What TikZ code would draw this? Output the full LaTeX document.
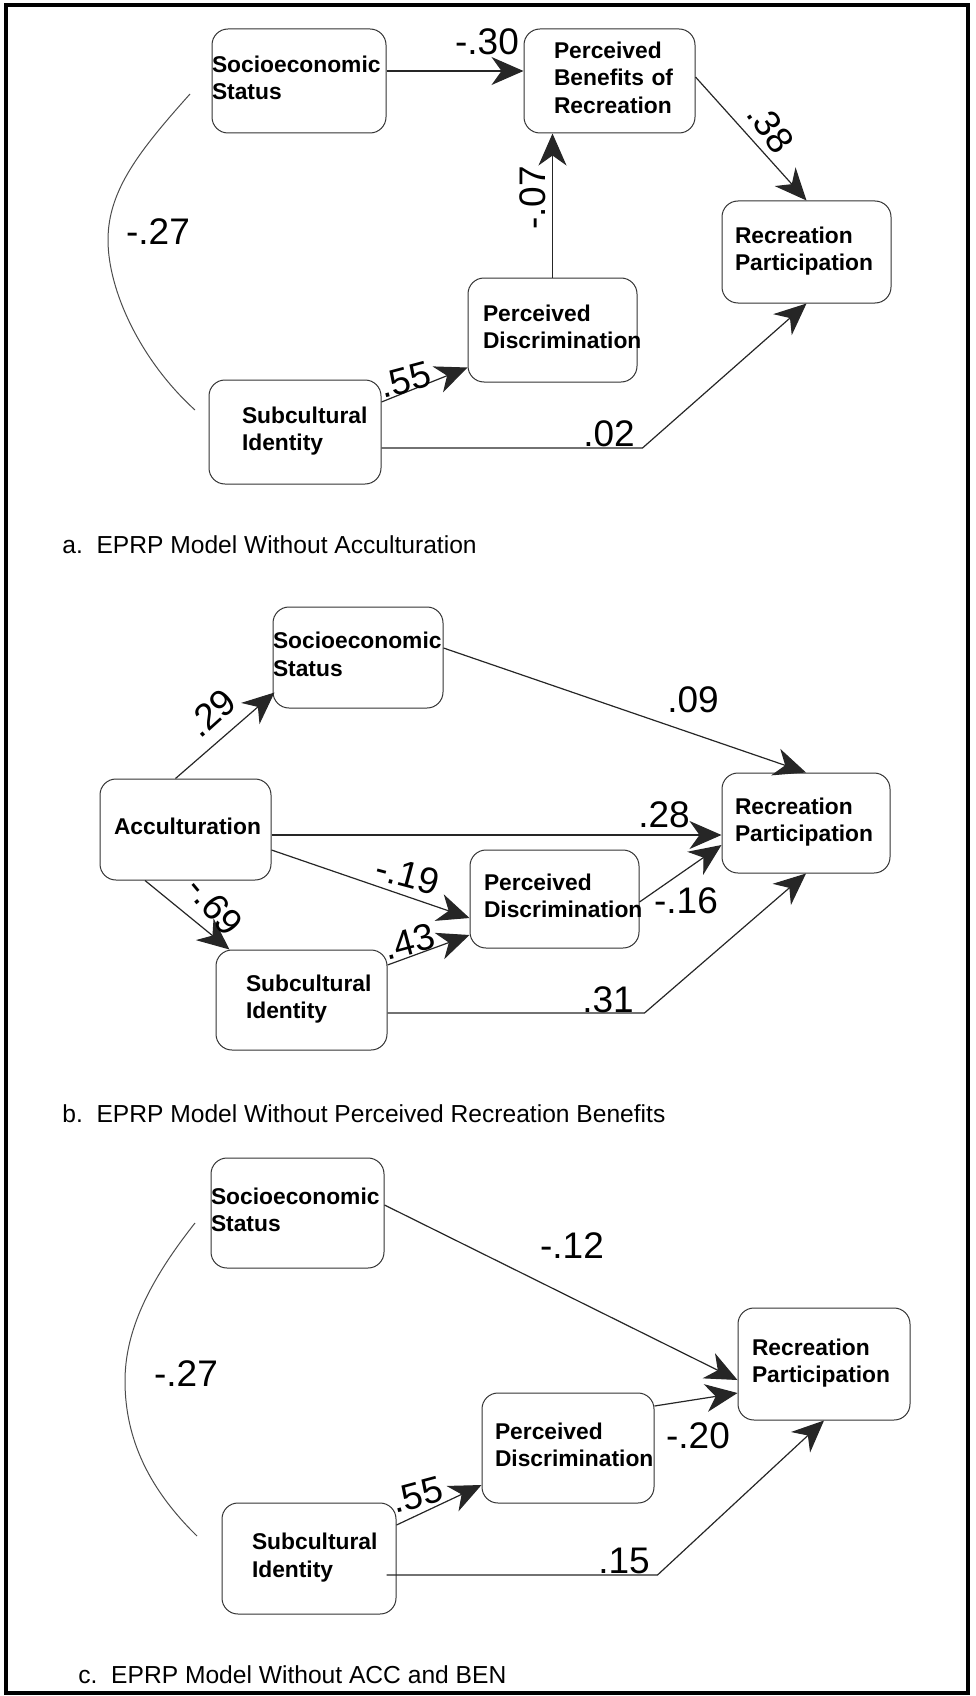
\documentclass[tikz,border=0pt]{standalone}
\usepackage{fontspec}
\setmainfont{Liberation Sans}
\usetikzlibrary{arrows.meta}
\newcommand{\lastdepth}{\rule[-3.5pt]{0pt}{3.5pt}}
\newcommand{\nohyph}{\hyphenpenalty=10000 \exhyphenpenalty=10000 \relax}
\tikzset{
  box/.style={draw=black!80, line width=0.5pt, rounded corners=8pt, inner sep=0pt,
    align=left, font=\bfseries\fontsize{11.4}{13.75}\selectfont, execute at begin node=\nohyph},
  num/.style={inner sep=0pt, font=\fontsize{18.5}{20}\selectfont},
  captxt/.style={anchor=base west, inner sep=0pt, font=\fontsize{12.3}{14}\selectfont},
  conn/.style={draw=black!85, line width=0.6pt, -{Stealth[length=16pt,width=14pt,inset=5pt]}},
  corr/.style={draw=black!70, line width=0.5pt},
}
\begin{document}
\begin{tikzpicture}[x=0.5pt, y=-0.5pt]
\useasboundingbox (0,0) rectangle (975,1696);
\draw[line width=1.75pt] (6,5) rectangle (968,1693);

% ---------------- panel a ----------------
\node[box, minimum width=87pt, minimum height=52pt, text width=87pt] (sesa) at (299,81) {Socioeconomic\\Status\lastdepth};
\node[box, minimum width=85.5pt, minimum height=52pt, text width=55.5pt] (pba) at (609.5,81) {Perceived\\Benefits~of\\Recreation\lastdepth};
\node[box, minimum width=84.5pt, minimum height=51pt, text width=71.5pt] (rpa) at (806.5,252) {Recreation\\Participation\lastdepth};
\node[box, minimum width=84.5pt, minimum height=52pt, text width=69.5pt] (pda) at (552.5,330) {Perceived\\Discrimination\lastdepth};
\node[box, minimum width=86pt, minimum height=52pt, text width=53pt] (sia) at (295,432) {Subcultural\\Identity\lastdepth};

\draw[conn] ([yshift=5pt]sesa.east) -- ([yshift=5pt]pba.west);
\draw[conn] (pda.north) -- (pda.north |- pba.south);
\draw[conn] ([yshift=2pt]pba.east) -- (rpa.north);
\draw[conn] ([yshift=15pt]sia.east) -- ([yshift=7.5pt]pda.south west);
\draw[conn] ([yshift=-8pt]sia.east) -- ++(261,0) -- (rpa.south);
\coordinate (arca1) at (190,94);
\coordinate (arca2) at (195,410);
\draw[corr] (arca1) .. controls (140,150) and (108,190) .. (108,240)
            .. controls (108,290) and (140,360) .. (arca2);

\node[num] (la30) at (487,42) {-.30};
\node[num, rotate=90] (la07) at (533,198) {-.07};
\node[num, rotate=-55] (la38) at (771,128) {.38};
\node[num, rotate=15] (la55) at (405,380) {.55};
\node[num, anchor=base] (la02) at (609,446) {.02};
\node[num] (la27) at (158,232) {-.27};

\node[captxt] (capa) at (62,553) {a.\ \ EPRP Model Without Acculturation};

% ---------------- panel b ----------------
\node[box, minimum width=85pt, minimum height=50.5pt, text width=85pt] (sesb) at (358,657.5) {Socioeconomic\\Status\lastdepth};
\node[box, minimum width=85.5pt, minimum height=50.5pt, text width=71.5pt] (accb) at (185.5,829.5) {Acculturation\lastdepth};
\node[box, minimum width=84pt, minimum height=50pt, text width=71pt] (rpb) at (806,823) {Recreation\\Participation\lastdepth};
\node[box, minimum width=84.5pt, minimum height=49pt, text width=70.5pt] (pdb) at (554.5,899) {Perceived\\Discrimination\lastdepth};
\node[box, minimum width=85.5pt, minimum height=50pt, text width=55.5pt] (sib) at (301.5,1000) {Subcultural\\Identity\lastdepth};

\coordinate (accr) at ([yshift=-2.75pt]accb.east);
\draw[conn] ([xshift=-5pt]accb.north) -- ([shift={(1pt,8pt)}]sesb.south west);
\draw[conn] ([yshift=4.75pt]sesb.east) -- (rpb.north);
\draw[conn] (accr) -- (accr -| rpb.west);
\draw[conn] ([yshift=-10.25pt]accb.east) -- ([yshift=-9.5pt]pdb.west);
\draw[conn] ([xshift=-20.25pt]accb.south) -- ([xshift=7pt]sib.north west);
\draw[conn] ([yshift=17.5pt]sib.east) -- ([yshift=-18pt]pdb.west);
\draw[conn] ([yshift=-1.5pt]pdb.east) -- ([yshift=-11pt]rpb.west);
\draw[conn] ([yshift=-6.5pt]sib.east) -- ++(257,0) -- (rpb.south);

\node[num, rotate=42] (lb29) at (211,713) {.29};
\node[num] (lb09) at (693,700) {.09};
\node[num] (lb28) at (664,815) {.28};
\node[num, rotate=-15] (lb19) at (408,875) {-.19};
\node[num, rotate=-50] (lb69) at (215,906) {-.69};
\node[num, rotate=15] (lb43) at (409,942) {.43};
\node[num] (lb16) at (686,901) {-.16};
\node[num, anchor=base] (lb31) at (608,1012) {.31};

\node[captxt] (capb) at (62,1122) {b.\ \ EPRP Model Without Perceived Recreation Benefits};

% ---------------- panel c ----------------
\node[box, minimum width=86.5pt, minimum height=55pt, text width=86.5pt] (sesc) at (297.5,1213) {Socioeconomic\\Status\lastdepth};
\node[box, minimum width=86pt, minimum height=56pt, text width=72pt] (rpc) at (824,1364) {Recreation\\Participation\lastdepth};
\node[box, minimum width=86pt, minimum height=55pt, text width=73pt] (pdc) at (568,1448) {Perceived\\Discrimination\lastdepth};
\node[box, minimum width=87pt, minimum height=55.5pt, text width=57pt] (sic) at (309,1558.5) {Subcultural\\Identity\lastdepth};

\draw[conn] ([yshift=4pt]sesc.east) -- ([yshift=-8pt]rpc.west);
\draw[conn] ([yshift=21pt]pdc.east) -- ([yshift=-14.5pt]rpc.west);
\draw[conn] ([yshift=16.75pt]sic.east) -- ([yshift=-18.5pt]pdc.west);
\draw[conn] ([shift={(-5pt,-8.25pt)}]sic.east) -- ++(271,0) -- (rpc.south);
\coordinate (arcc1) at (195,1223);
\coordinate (arcc2) at (197,1536);
\draw[corr] (arcc1) .. controls (150,1280) and (125,1330) .. (125,1381)
            .. controls (125,1440) and (150,1490) .. (arcc2);

\node[num] (lc12) at (572,1246) {-.12};
\node[num] (lc20) at (698,1436) {-.20};
\node[num, rotate=15] (lc55) at (417,1495) {.55};
\node[num, anchor=base] (lc15) at (624,1573) {.15};
\node[num] (lc27) at (186,1374) {-.27};

\node[captxt] (capc) at (78,1683) {c.\ \ EPRP Model Without ACC and BEN};
\end{tikzpicture}
\end{document}
